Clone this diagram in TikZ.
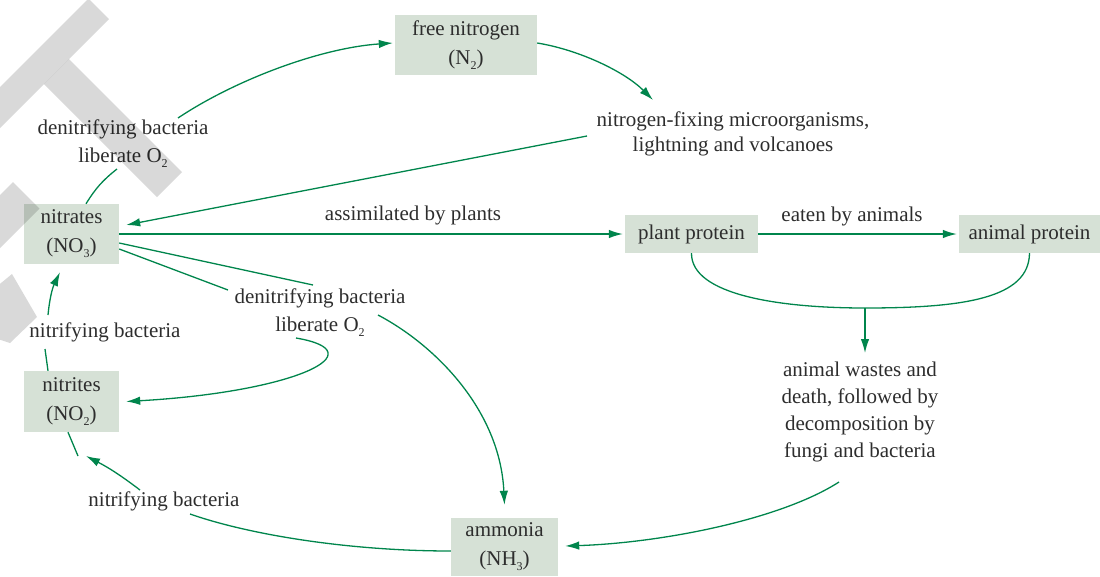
\documentclass[tikz,border=0pt]{standalone}
\usepackage{fontspec}
\setmainfont{Liberation Serif}
\newfontfamily\diagfont{Liberation Serif}
\usetikzlibrary{arrows.meta,calc}
\definecolor{arrowgreen}{RGB}{0,133,76}
\definecolor{boxfill}{RGB}{214,225,214}
\definecolor{txt}{RGB}{45,45,45}
\newcommand{\chsub}[1]{\raisebox{-0.5ex}{\fontsize{12}{12}\selectfont #1}}
\tikzset{
  cyclebox/.style={fill=boxfill, text=txt, inner sep=0pt, align=center, font=\diagfont\fontsize{21}{29}\selectfont},
  lbl/.style={text=txt, inner sep=0pt, align=center, font=\diagfont\fontsize{21}{27}\selectfont},
  link/.style={draw=arrowgreen, line width=1.3pt},
  arr/.style={link, -{Latex[length=14pt,width=8.5pt]}},
  wmark/.style={fill=black, fill opacity=0.15, draw=none}
}
\begin{document}
\begin{tikzpicture}[x=1pt,y=-1pt]
\useasboundingbox (0,0) rectangle (1100,576);
% boxes
\node[cyclebox, minimum width=142pt, minimum height=60pt] (fn) at (466,45) {free nitrogen\\(N\chsub{2})};
\node[cyclebox, minimum width=95pt, minimum height=60pt] (nitrates) at (71.5,234) {nitrates\\(NO\chsub{3})};
\node[cyclebox, minimum width=95pt, minimum height=61pt] (nitrites) at (71.5,401.5) {nitrites\\(NO\chsub{2})};
\node[cyclebox, minimum width=133pt, minimum height=38pt] (plant) at (691.5,234) {plant protein};
\node[cyclebox, minimum width=141pt, minimum height=38pt] (animal) at (1029.5,234) {animal protein};
\node[cyclebox, minimum width=107pt, minimum height=58pt] (am) at (504.5,547) {ammonia\\(NH\chsub{3})};
% labels
\node[lbl, font=\diagfont\fontsize{21}{28}\selectfont] (denitA) at (123,144) {denitrifying bacteria\\liberate O\chsub{2}};
\node[lbl, font=\diagfont\fontsize{21}{25}\selectfont] (fix) at (733,134) {nitrogen-fixing microorganisms,\\lightning and volcanoes};
\node[lbl] (assim) at (413,215) {assimilated by plants};
\node[lbl] (eaten) at (852,216) {eaten by animals};
\node[lbl, font=\diagfont\fontsize{21}{28.5}\selectfont] (denitB) at (320,312.5) {denitrifying bacteria\\liberate O\chsub{2}};
\node[lbl] (nitU) at (105,332) {nitrifying bacteria};
\node[lbl] (nitL) at (164,501) {nitrifying bacteria};
\node[lbl, font=\diagfont\fontsize{21}{26.7}\selectfont] (wastes) at (860,412) {animal wastes and\\death, followed by\\decomposition by\\fungi and bacteria};
% free ends
\coordinate (dl1) at (117,169);
\coordinate (dl2) at (178,118);
\coordinate (nf1) at (587,136);
\coordinate (nfin) at (653,100);
\coordinate (mid1) at (313,285);
\coordinate (mid2) at (228,290);
\coordinate (mid3) at (296,338);
\coordinate (mid4) at (378,315);
\coordinate (merge) at (865,308);
\coordinate (wastesin) at (865,353);
\coordinate (wastesout) at (839,482);
\coordinate (nb1) at (190,514);
\coordinate (nb2) at (140,490);
\coordinate (nb3) at (86,456);
\coordinate (nb4) at (78,456);
\coordinate (nu1) at (45,349);
\coordinate (nu2) at (48,315);
% connectors
\draw[link] ($(nitrates.north)+(14.5,0)$) to[bend left=10] (dl1);
\draw[arr] (dl2) .. controls (235,80) and (320,48) .. ($(fn.west)+(-2,-2)$);
\draw[arr] ($(fn.east)+(0,-2)$) .. controls (580,50) and (625,72) .. (nfin);
\draw[arr] (nf1) -- ($(nitrates.east)+(7,-9)$);
\draw[arr, shorten >=2pt] (nitrates.east) -- (plant.west);
\draw[arr, shorten >=2pt] (plant.east) -- (animal.west);
\draw[link] (plant.south) .. controls (691,295) and (780,308) .. (merge)
            .. controls (965,308) and (1029,298) .. (animal.south);
\draw[arr] (merge) -- (wastesin);
\draw[arr] (wastesout) .. controls (780,520) and (660,543) .. ($(am.east)+(7,-1)$);
\draw[link] ($(nitrates.east)+(0,9)$) -- (mid1);
\draw[link] ($(nitrates.east)+(0,15)$) -- (mid2);
\draw[arr] (mid3) .. controls (378,352) and (295,392) .. ($(nitrites.east)+(7,0)$);
\draw[arr] (mid4) .. controls (435,345) and (500,410) .. ($(am.north)+(0,-13)$);
\draw[link] ($(am.west)+(0,4)$) .. controls (350,551) and (250,535) .. (nb1);
\draw[arr] (nb2) to[bend right=5] (nb3);
\draw[link] ($(nitrites.south)+(-3.5,0)$) -- (nb4);
\draw[link] ($(nitrites.north)+(-23.5,0)$) -- (nu1);
\draw[arr] (nu2) to[bend left=10] ($(nitrates.south)+(-11.5,8)$);
% watermark
\begin{scope}
\clip (0,0) rectangle (1100,576);
\fill[wmark] (-60,147) -- (88.5,-1.5) -- (109,19) -- (-36,164) -- cycle;
\fill[wmark] (69,59) -- (182,172) -- (157,197) -- (44,84) -- cycle;
\fill[wmark] (13,182) -- (39.5,208.5) -- (-60,308) -- (-60,255) -- cycle;
\fill[wmark] (-5,288) -- (12,274) -- (37,317) -- (10,343) -- (-5,338) -- cycle;
\end{scope}
\end{tikzpicture}
\end{document}
